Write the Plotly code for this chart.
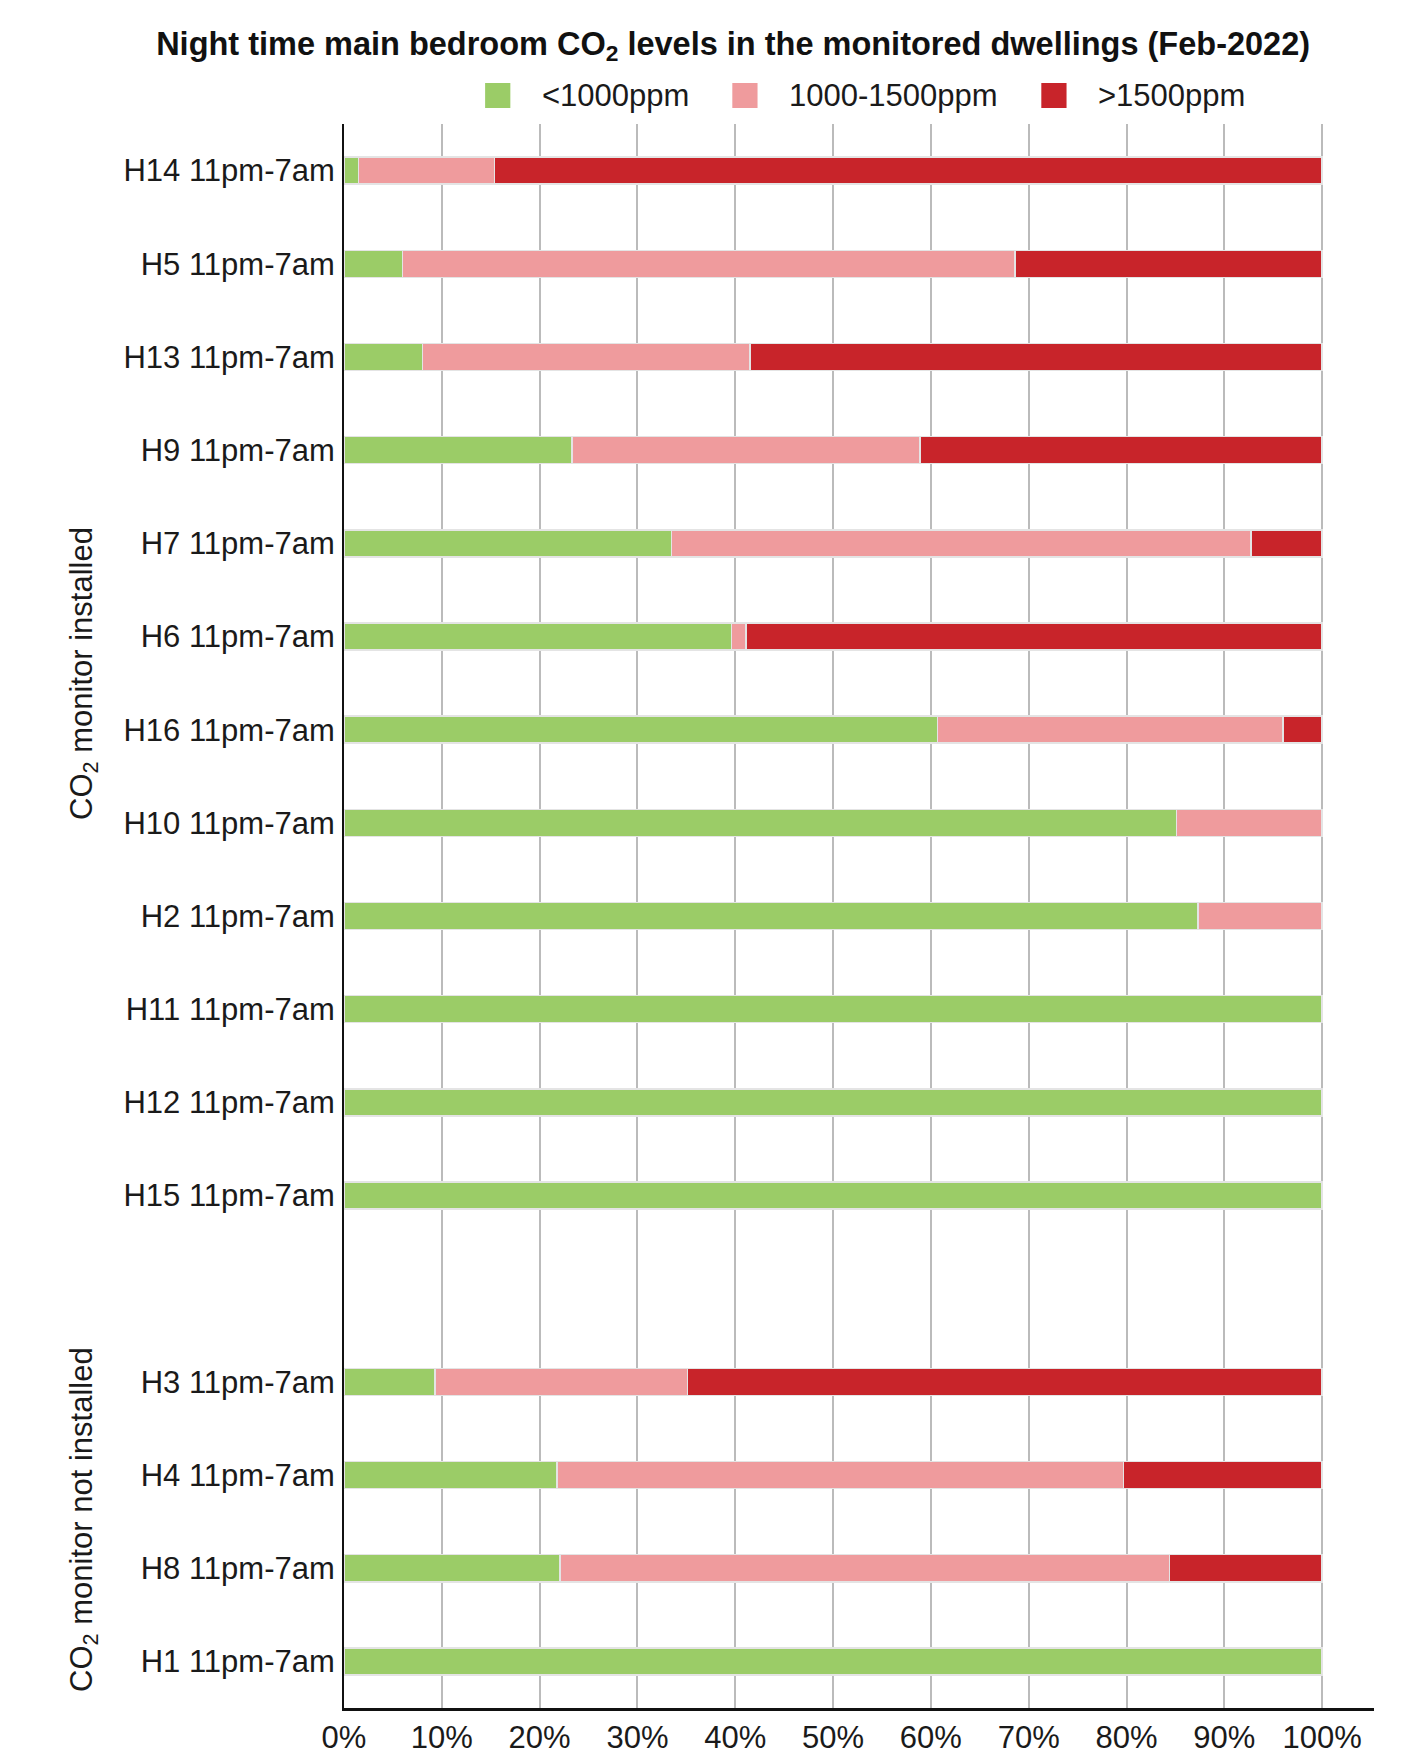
import plotly.graph_objects as go

# night time CO2 bands per dwelling, % of hours (Feb-2022)
dwellings = ['H14 11pm-7am', 'H5 11pm-7am', 'H13 11pm-7am', 'H9 11pm-7am',
             'H7 11pm-7am', 'H6 11pm-7am', 'H16 11pm-7am', 'H10 11pm-7am',
             'H2 11pm-7am', 'H11 11pm-7am', 'H12 11pm-7am', 'H15 11pm-7am',
             ' ',
             'H3 11pm-7am', 'H4 11pm-7am', 'H8 11pm-7am', 'H1 11pm-7am']
below_1000 = [1.5, 6.0, 8.0, 23.3, 33.5, 39.6, 60.7, 85.1, 87.3, 100, 100, 100, None, 9.3, 21.8, 22.1, 100]
from_1000_1500 = [13.9, 62.6, 33.5, 35.6, 59.2, 1.5, 35.3, 14.9, 12.7, None, None, None, None, 25.8, 57.9, 62.3, None]
above_1500 = [84.6, 31.4, 58.5, 41.1, 7.3, 58.9, 4.0, None, None, None, None, None, None, 64.9, 20.3, 15.6, None]

series_names = ['<1000ppm', '1000-1500ppm', '>1500ppm']
colours = ['#9BCC67', '#EF9B9D', '#C8242A']
pct_ticks = [0, 10, 20, 30, 40, 50, 60, 70, 80, 90, 100]
pct_labels = [f'{v}%' for v in pct_ticks]
groups = ['CO<sub>2</sub> monitor installed', 'CO<sub>2</sub> monitor not installed']

FONT = 'Arial, Liberation Sans, sans-serif'

fig = go.Figure()
for name, vals, col in zip(series_names, [below_1000, from_1000_1500, above_1500], colours):
    fig.add_trace(go.Bar(
        x=vals, y=dwellings, name=name, orientation='h',
        marker=dict(color=col, line=dict(color='#e4e4e4', width=1.5)),
        width=0.29, showlegend=False))

# legend drawn by hand so the swatches can be big squares
legend_x = [0.137, 0.377, 0.677]
shapes = []
annotations = []
for lx, name, col in zip(legend_x, series_names, colours):
    shapes.append(dict(type='rect', xref='paper', yref='paper',
                       x0=lx, x1=lx + 0.0245, y0=1.0101, y1=1.0259,
                       fillcolor=col, line=dict(width=0)))
    annotations.append(dict(x=lx + 0.053, y=1.018, xref='paper', yref='paper',
                            text=name, showarrow=False, xanchor='left', yanchor='middle',
                            font=dict(size=31, color='#1a1a1a', family=FONT)))

for text, gy in zip(groups, [0.6534, 0.1193]):
    annotations.append(dict(x=-0.2525, y=gy, xref='paper', yref='paper',
                            text=text, showarrow=False, textangle=-90,
                            xanchor='center', yanchor='middle',
                            font=dict(size=31, color='#1a1a1a', family=FONT)))

fig.update_layout(
    barmode='stack',
    width=1408, height=1762,
    plot_bgcolor='white', paper_bgcolor='white',
    margin=dict(l=336, r=42, t=116, b=62),
    font=dict(family=FONT, size=31, color='#1a1a1a'),
    title=dict(text='<b>Night time main bedroom CO<sub>2</sub> levels in the monitored dwellings (Feb-2022)</b>',
               x=0.515, xanchor='center', y=0.98, yanchor='middle', yref='container',
               font=dict(size=32.5, color='#111111', family=FONT)),
    shapes=shapes,
    annotations=annotations,
)
fig.update_xaxes(
    range=[0, 105.3], tickmode='array', tickvals=pct_ticks, ticktext=pct_labels,
    showgrid=True, gridcolor='#bbbbbb', gridwidth=1.5,
    showline=True, linecolor='#111111', linewidth=3,
    zeroline=False, ticks='', automargin=False,
    tickfont=dict(size=31, color='#1a1a1a'))
fig.update_yaxes(
    type='category', categoryorder='array', categoryarray=dwellings,
    range=[16.5, -0.5],
    showgrid=False, showline=True, linecolor='#111111', linewidth=2,
    ticks='', ticklabelstandoff=1, automargin=False,
    tickfont=dict(size=31, color='#1a1a1a'))

fig.write_html('out.html')
